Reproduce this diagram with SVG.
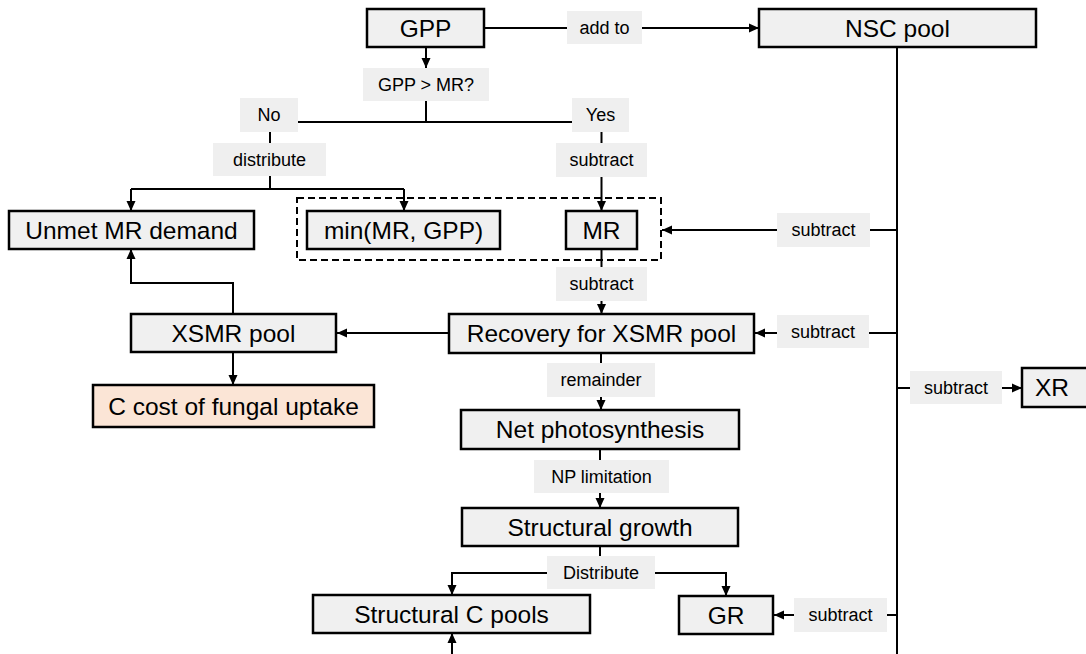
<svg xmlns="http://www.w3.org/2000/svg" width="1086" height="654" viewBox="0 0 1086 654">
<style>
  .box { fill: #f0f0f0; stroke: #000; stroke-width: 2.5; }
  .peach { fill: #fbe5d6; stroke: #000; stroke-width: 2.5; }
  .dash { fill: none; stroke: #000; stroke-width: 2; stroke-dasharray: 7 4; }
  .lbl { fill: #efefef; stroke: none; }
  .bt { font-family: "Liberation Sans", Arial, sans-serif; font-size: 24.5px; fill: #000; text-anchor: middle; }
  .lt { font-family: "Liberation Sans", Arial, sans-serif; font-size: 18px; fill: #000; text-anchor: middle; }
  .ln { fill: none; stroke: #000; stroke-width: 2; }
</style>
<defs>
  <marker id="ah" markerUnits="userSpaceOnUse" markerWidth="10" markerHeight="10" refX="10" refY="5" orient="auto">
    <path d="M0,0.5 L10,5 L0,9.5 z" fill="#000"/>
  </marker>
</defs>

<g id="connectors">
  <path class="ln" d="M484,28 H567"/>
  <path class="ln" d="M642,28 H759" marker-end="url(#ah)"/>
  <path class="ln" d="M426,47 V68" marker-end="url(#ah)"/>
  <path class="ln" d="M426,101 V122"/>
  <path class="ln" d="M298,122 H572"/>
  <path class="ln" d="M270,132 V143"/>
  <path class="ln" d="M270,176 V189"/>
  <path class="ln" d="M131,189 H404"/>
  <path class="ln" d="M131,189 V211" marker-end="url(#ah)"/>
  <path class="ln" d="M404,189 V211" marker-end="url(#ah)"/>
  <path class="ln" d="M601.5,132 V143"/>
  <path class="ln" d="M601.5,177 V211" marker-end="url(#ah)"/>
  <path class="ln" d="M897,47 V654"/>
  <path class="ln" d="M897,230 H870"/>
  <path class="ln" d="M777,230 H662" marker-end="url(#ah)"/>
  <path class="ln" d="M601.5,249 V267"/>
  <path class="ln" d="M601.5,301 V314" marker-end="url(#ah)"/>
  <path class="ln" d="M897,333 H869"/>
  <path class="ln" d="M777,333 H755" marker-end="url(#ah)"/>
  <path class="ln" d="M449,333 H337" marker-end="url(#ah)"/>
  <path class="ln" d="M233,314 V283 H131 V249" marker-end="url(#ah)"/>
  <path class="ln" d="M233,352 V385" marker-end="url(#ah)"/>
  <path class="ln" d="M601,353 V363"/>
  <path class="ln" d="M601,397 V410" marker-end="url(#ah)"/>
  <path class="ln" d="M600,449 V460"/>
  <path class="ln" d="M600,493 V508" marker-end="url(#ah)"/>
  <path class="ln" d="M600,546 V556"/>
  <path class="ln" d="M547,573 H452 V595" marker-end="url(#ah)"/>
  <path class="ln" d="M655,573 H726 V596" marker-end="url(#ah)"/>
  <path class="ln" d="M897,615 H887"/>
  <path class="ln" d="M794,615 H774" marker-end="url(#ah)"/>
  <path class="ln" d="M897,388 H910"/>
  <path class="ln" d="M1002,388 H1022" marker-end="url(#ah)"/>
  <path class="ln" d="M452,654 V633" marker-end="url(#ah)"/>
</g>

<g id="labels">
  <g id="lbl-addto"><rect class="lbl" x="567" y="11" width="75" height="33"/><text class="lt" x="604.5" y="34">add to</text></g>
  <g id="lbl-gppmr"><rect class="lbl" x="363" y="68" width="126" height="33"/><text class="lt" x="426" y="91">GPP &gt; MR?</text></g>
  <g id="lbl-no"><rect class="lbl" x="240" y="98" width="58" height="34"/><text class="lt" x="269" y="121">No</text></g>
  <g id="lbl-yes"><rect class="lbl" x="572" y="98" width="57" height="34"/><text class="lt" x="600.5" y="121">Yes</text></g>
  <g id="lbl-distribute"><rect class="lbl" x="213" y="143" width="113" height="33"/><text class="lt" x="269.5" y="166">distribute</text></g>
  <g id="lbl-sub1"><rect class="lbl" x="556" y="143" width="91" height="34"/><text class="lt" x="601.5" y="166">subtract</text></g>
  <g id="lbl-sub2"><rect class="lbl" x="777" y="213" width="93" height="34"/><text class="lt" x="823.5" y="236">subtract</text></g>
  <g id="lbl-sub3"><rect class="lbl" x="556" y="267" width="91" height="34"/><text class="lt" x="601.5" y="290">subtract</text></g>
  <g id="lbl-sub4"><rect class="lbl" x="777" y="315" width="92" height="33"/><text class="lt" x="823" y="338">subtract</text></g>
  <g id="lbl-remainder"><rect class="lbl" x="547" y="363" width="108" height="34"/><text class="lt" x="601" y="386">remainder</text></g>
  <g id="lbl-sub5"><rect class="lbl" x="910" y="371" width="92" height="33"/><text class="lt" x="956" y="394">subtract</text></g>
  <g id="lbl-np"><rect class="lbl" x="534" y="460" width="135" height="33"/><text class="lt" x="601.5" y="483">NP limitation</text></g>
  <g id="lbl-Distribute"><rect class="lbl" x="547" y="556" width="108" height="33"/><text class="lt" x="601" y="579">Distribute</text></g>
  <g id="lbl-sub6"><rect class="lbl" x="794" y="598" width="93" height="34"/><text class="lt" x="840.5" y="621">subtract</text></g>
</g>

<g id="node-gpp"><rect class="box" x="367" y="9" width="117" height="38"/><text class="bt" x="425.5" y="36.5">GPP</text></g>
<g id="node-nsc"><rect class="box" x="759" y="9" width="277" height="38"/><text class="bt" x="897.5" y="36.5">NSC pool</text></g>
<g id="node-unmet"><rect class="box" x="9" y="211" width="245" height="38"/><text class="bt" x="131.5" y="238.5">Unmet MR demand</text></g>
<g id="node-mrgroup"><rect class="dash" x="297" y="198" width="364" height="62"/></g>
<g id="node-min"><rect class="box" x="307" y="211" width="193" height="38"/><text class="bt" x="403.5" y="238.5">min(MR, GPP)</text></g>
<g id="node-mr"><rect class="box" x="566" y="211" width="71" height="38"/><text class="bt" x="601.5" y="238.5">MR</text></g>
<g id="node-xsmr"><rect class="box" x="131" y="314" width="205" height="38"/><text class="bt" x="233.5" y="341.5">XSMR pool</text></g>
<g id="node-ccost"><rect class="peach" x="93" y="385" width="281" height="42"/><text class="bt" x="233.5" y="414.5">C cost of fungal uptake</text></g>
<g id="node-recovery"><rect class="box" x="449" y="314" width="305" height="39"/><text class="bt" x="601.5" y="342">Recovery for XSMR pool</text></g>
<g id="node-net"><rect class="box" x="461" y="410" width="278" height="39"/><text class="bt" x="600" y="438">Net photosynthesis</text></g>
<g id="node-growth"><rect class="box" x="462" y="508" width="276" height="38"/><text class="bt" x="600" y="535.5">Structural growth</text></g>
<g id="node-structc"><rect class="box" x="313" y="595" width="277" height="38"/><text class="bt" x="451.5" y="622.5">Structural C pools</text></g>
<g id="node-gr"><rect class="box" x="679" y="596" width="94" height="38"/><text class="bt" x="726" y="623.5">GR</text></g>
<g id="node-xr"><rect class="box" x="1022" y="368" width="72" height="39"/><text class="bt" x="1052" y="396">XR</text></g>
</svg>
